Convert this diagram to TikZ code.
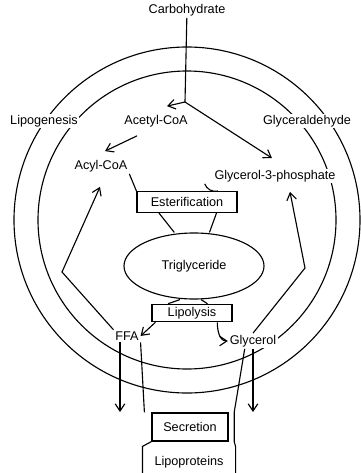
\documentclass[tikz,border=0pt]{standalone}
\usepackage{fontspec}
\setmainfont{Liberation Sans}
\usetikzlibrary{shapes.geometric, arrows.meta}

\tikzset{
  lbl/.style={fill=white, inner sep=1pt, font=\fontsize{9}{10}\selectfont},
  procbox/.style={draw, fill=white, inner sep=2pt, font=\fontsize{9}{10}\selectfont},
  flow/.style={-{Straight Barb[length=1.8mm,width=2.4mm]}},
  wall/.style={line width=0.8pt}
}

\begin{document}
\begin{tikzpicture}[x=0.25mm, y=-0.25mm, line width=0.8pt]
  \useasboundingbox (0,0) rectangle (361,473);

  % cell walls
  \draw[wall] (187,220) circle[radius=173];
  \draw[wall] (187,220) circle[radius=149];

  % labels and boxes
  \node[lbl] (carb) at (187,10) {Carbohydrate};
  \node[lbl] (lipogen) at (44,121) {Lipogenesis};
  \node[lbl] (acetyl) at (156,121) {Acetyl-CoA};
  \node[lbl] (glyald) at (307,121) {Glyceraldehyde};
  \node[lbl] (acyl) at (101,166) {Acyl-CoA};
  \node[lbl] (g3p) at (275,176) {Glycerol-3-phosphate};
  \node[procbox, minimum width=25mm, minimum height=5.2mm] (ester) at (187,202) {Esterification};
  \node[draw, ellipse, minimum width=35mm, minimum height=16.5mm,
        font=\fontsize{9}{10}\selectfont] (trig) at (194,266) {Triglyceride};
  \node[procbox, minimum width=20mm, minimum height=4.3mm] (lipol) at (192,313) {Lipolysis};
  \node[lbl] (ffa) at (127,336) {FFA};
  \node[lbl] (glyc) at (253,341) {Glycerol};
  \node[procbox, minimum width=19mm, minimum height=7mm] (secr) at (190,427) {Secretion};
  \node[lbl, minimum width=23mm, minimum height=7.5mm] (lipoprot) at (189,462) {Lipoproteins};

  \coordinate (split) at (185,102);
  \coordinate (lbend) at (62,272);
  \coordinate (rbend) at (305,268);
  \coordinate (ffaout) at (120,412);
  \coordinate (glycout) at (253,412);

  % uptake
  \draw (carb) -- (split);
  \draw[flow] (split) -- ([shift={(11,-7)}]acetyl.north);
  \draw[flow] (split) -- ([shift={(-3,-10)}]g3p.north);
  \draw[flow] ([shift={(-19,7)}]acetyl.south) -- ([shift={(4,-7)}]acyl.north);

  % esterification
  \draw (acyl.south east) -- (ester.north west);
  \draw ([xshift=-50]g3p.south) to[bend right=40] ([xshift=-14]ester.north east);
  \draw ([xshift=-20]ester.south) -- ([xshift=-14]trig.north);
  \draw ([xshift=21]ester.south) -- ([xshift=11]trig.north);

  % lipolysis
  \draw ([xshift=-10]trig.south) -- ([xshift=-17]lipol.north);
  \draw ([xshift=5]trig.south) -- ([xshift=11]lipol.north);
  \draw[flow] ([xshift=-26]lipol.south) -- (ffa.east);
  \draw[flow] ([xshift=18]lipol.south) to[out=-90, in=180] (glyc.west);

  % recycling
  \draw[flow] (ffa.north west) -- (lbend) -- ([shift={(-1,13)}]acyl.south);
  \draw[flow] (glyc.north) -- (rbend) -- ([shift={(15,8)}]g3p.south);

  % release
  \draw[flow] (ffa.south -| ffaout) -- (ffaout);
  \draw[flow] (glyc.south -| glycout) -- (glycout);

  % secretion channel
  \draw (ffa.south east) -- ([xshift=-5]secr.north west);
  \draw ([xshift=12]glyc.south west) -- ([xshift=4]secr.north east)
    -- ([xshift=4]secr.south east) -- (lipoprot.north east) -- (lipoprot.south east);
  \draw (secr.south west) -- (lipoprot.north west) -- (lipoprot.south west);
\end{tikzpicture}
\end{document}
